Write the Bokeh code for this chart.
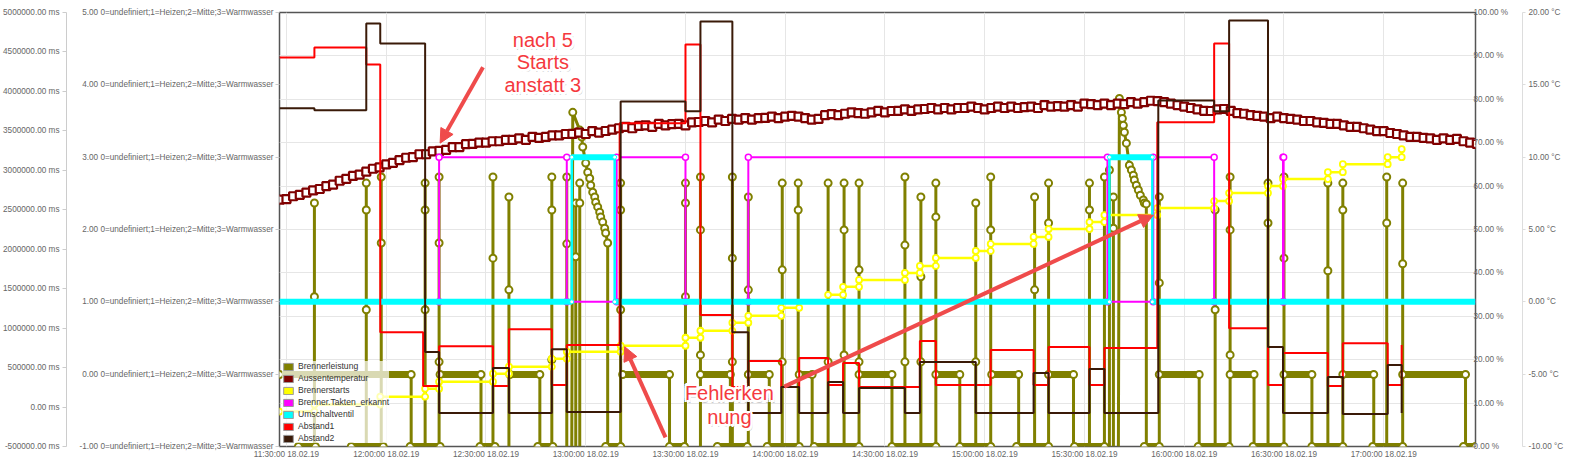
import numpy as np
import pandas as pd
from bokeh.plotting import figure
from bokeh.models import (Range1d, LinearAxis, FixedTicker, CustomJSTickFormatter, DatetimeTickFormatter,
                          Grid, Legend, LegendItem, Label, Arrow, NormalHead)
from bokeh.embed import file_html
from bokeh.resources import INLINE

# ---------------------------------------------------------------- data
DAY = "2019-02-18 "
X_START, X_END = "11:27:54", "17:27:36"
X_TICKS = ["11:30:00", "12:00:00", "12:30:00", "13:00:00", "13:30:00", "14:00:00", "14:30:00",
           "15:00:00", "15:30:00", "16:00:00", "16:30:00", "17:00:00"]
STATE_TEXT = "0=undefiniert;1=Heizen;2=Mitte;3=Warmwasser"
STATE_TICKS = [-1, 0, 1, 2, 3, 4, 5]
MS_TICKS = [-500000, 0, 500000, 1000000, 1500000, 2000000, 2500000, 3000000, 3500000, 4000000, 4500000, 5000000]
PCT_TICKS = [0, 10, 20, 30, 40, 50, 60, 70, 80, 90, 100]
DEGC_TICKS = [-10, -5, 0, 5, 10, 15, 20]

SERIES = ["Brennerleistung", "Aussentemperatur", "Brennerstarts", "Brenner.Takten_erkannt",
          "Umschaltventil", "Abstand1", "Abstand2"]
COLORS = ["#808000", "#800000", "#ffff00", "#ff00ff", "#00ffff", "#ff0000", "#3a1a08"]

# Aussentemperatur (°C), one reading every 2 minutes from 11:28
temp_start = "11:28:00"
temp_c = [7.07, 7.1, 7.3, 7.4, 7.55, 7.7, 7.8, 8.0, 8.1, 8.37, 8.5, 8.7, 8.8, 9.0, 9.2,
          9.3, 9.5, 9.6, 9.8, 9.96, 10.0, 10.2, 10.2, 10.4, 10.44, 10.5, 10.7, 10.7, 10.9, 10.92,
          11.0, 11.0, 11.1, 11.1, 11.19, 11.2, 11.3, 11.2, 11.4, 11.33, 11.4, 11.5, 11.5, 11.6, 11.61,
          11.7, 11.6, 11.8, 11.7, 11.81, 11.9, 12.0, 12.1, 12.0, 12.16, 12.2, 12.1, 12.3, 12.2, 12.29,
          12.3, 12.2, 12.4, 12.43, 12.5, 12.4, 12.6, 12.5, 12.64, 12.6, 12.7, 12.6, 12.7, 12.71, 12.8,
          12.7, 12.8, 12.85, 12.8, 12.7, 12.6, 12.64, 12.9, 12.98, 12.9, 13.0, 13.1, 13.05, 13.0, 13.1,
          13.2, 13.1, 13.19, 13.2, 13.3, 13.2, 13.3, 13.33, 13.4, 13.3, 13.4, 13.3, 13.4, 13.4, 13.5,
          13.4, 13.3, 13.4, 13.5, 13.4, 13.5, 13.4, 13.46, 13.5, 13.4, 13.6, 13.5, 13.53, 13.5, 13.6,
          13.5, 13.7, 13.67, 13.6, 13.7, 13.6, 13.7, 13.67, 13.8, 13.7, 13.8, 13.9, 13.88, 13.8, 13.7,
          13.6, 13.5, 13.4, 13.3, 13.2, 13.19, 13.3, 13.33, 13.2, 13.05, 13.0, 12.9, 12.85, 12.8, 12.7,
          12.8, 12.7, 12.64, 12.6, 12.5, 12.5, 12.4, 12.37, 12.3, 12.3, 12.2, 12.1, 12.09, 12.0, 11.9,
          11.8, 11.8, 11.67, 11.6, 11.5, 11.4, 11.4, 11.33, 11.3, 11.2, 11.3, 11.2, 11.26, 11.1, 11.0,
          10.92]

# Abstand1 / Abstand2 (ms), step values
abstand1_times = ["11:27:54", "11:38:24", "11:54:00", "11:58:12", "12:11:06", "12:15:54", "12:32:06",
                  "12:36:54", "12:49:48", "12:54:18", "13:10:12", "13:30:00", "13:34:30", "13:44:06",
                  "13:48:54", "13:58:48", "14:04:12", "14:12:54", "14:17:24", "14:22:12", "14:40:30",
                  "14:45:18", "15:01:48", "15:14:42", "15:19:12", "15:31:30", "15:36:00", "15:51:54",
                  "16:09:00", "16:13:30", "16:25:12", "16:29:42", "16:43:12", "16:47:42", "17:01:12",
                  "17:05:24"]
abstand1_ms = [4430000, 4557000, 4342000, 949000, 266000, 772000, 266000, 987000, 279000, 785000,
               3595000, 4595000, 1165000, 253000, 582000, 253000, 620000, 279000, 557000, 253000,
               836000, 279000, 722000, 279000, 760000, 279000, 747000, 3608000, 4608000, 1000000,
               279000, 684000, 266000, 810000, 279000, 785000]
abstand2_times = ["11:27:54", "11:38:24", "11:54:00", "11:58:12", "12:11:42", "12:15:54", "12:32:06",
                  "12:36:54", "12:49:48", "12:54:18", "13:10:30", "13:30:00", "13:34:30", "13:44:06",
                  "13:48:54", "13:58:48", "14:04:12", "14:12:54", "14:17:24", "14:22:12", "14:36:00",
                  "14:40:30", "14:57:18", "15:14:42", "15:19:12", "15:31:30", "15:36:00", "15:52:12",
                  "16:09:00", "16:13:30", "16:25:12", "16:29:42", "16:43:12", "16:47:42", "17:01:12",
                  "17:05:24"]
abstand2_ms = [3785000, 3760000, 4861000, 4608000, 696000, -76000, 494000, -76000, 734000, -63000,
               3873000, 3747000, 4886000, 949000, -76000, 253000, -76000, 317000, -76000, 241000,
               -76000, 570000, -76000, 430000, -76000, 481000, -76000, 3886000, 3747000, 4899000,
               760000, -76000, 380000, -89000, 532000, -76000]

# Brennerstarts (% scale), step values; None = gap
starts_times = ["11:27:54", "11:38:24", "11:58:12", "12:11:42", "12:15:54", "12:32:06", "12:36:54",
                "12:49:48", "12:54:18", "13:10:30", "13:30:00", "13:34:30", "13:44:06", "13:48:54",
                "13:58:48", "14:04:12", "14:12:54", "14:17:24", "14:22:12", "14:36:00", "14:40:30",
                "14:45:18", "14:57:18", "15:01:48", "15:14:42", "15:19:12", "15:31:30", "15:36:00",
                "15:51:54", "16:09:00", "16:13:30", "16:25:12", "16:29:42", "16:43:12", "16:47:42",
                "17:01:12", "17:05:24"]
starts_pct = [8.05, 9.66, 11.49, 13.33, 14.94, 16.78, 18.39, 20.23, 21.84, 23.22, 25.06, 26.67, 28.51,
              30.11, 31.95, None, 34.94, 36.78, 38.39, 40.00, 41.61, 43.45, 45.06, 46.67, 48.28, 50.11,
              51.72, 53.33, 54.94, 56.55, 58.39, 60.00, 61.61, 63.22, 65.06, 66.67, 68.51]

# Brenner.Takten_erkannt and Umschaltventil (state scale), step values
takten_times = ["11:27:54", "12:15:54", "12:54:18", "13:09:18", "13:30:00", "13:48:54", "15:36:54",
                "15:50:42", "16:09:00", "16:29:42", "16:29:54", "17:27:36"]
takten_state = [1, 3, 1, 3, 1, 3, 1, 3, 1, 3, 1, 1]
ventil_times = ["11:27:54", "12:55:48", "13:08:42", "15:37:30", "15:50:24", "17:27:36"]
ventil_state = [1, 3, 1, 3, 1, 1]

# Brennerleistung (%)
spike_times = ["11:38:24", "11:54:00", "11:58:30", "12:11:42", "12:15:54", "12:32:06", "12:36:54",
               "12:49:48", "12:54:18", "12:57:00", "12:58:12", "13:10:30", "13:30:00", "13:34:30",
               "13:44:06", "13:48:54", "13:59:06", "14:03:54", "14:12:54", "14:17:42", "14:22:12",
               "14:36:00", "14:40:48", "14:45:18", "14:57:18", "15:01:48", "15:15:00", "15:19:12",
               "15:31:30", "15:36:00", "15:37:30", "15:38:42", "15:52:30", "16:09:18", "16:13:48",
               "16:25:12", "16:30:00", "16:43:12", "16:47:42", "17:00:54", "17:05:42"]
spike_pct = [56.1, 60.7, 62.1, 60.7, 62.1, 62.1, 57.5, 62.1, 62.1, 56.1, 60.7, 60.7, 60.7, 62.1,
             62.1, 57.5, 60.7, 60.7, 60.7, 60.7, 60.7, 62.1, 57.5, 60.7, 56.1, 62.1, 57.5, 60.7,
             60.7, 62.1, 63.7, 57.5, 57.5, 54.5, 62.1, 60.7, 62.1, 60.7, 60.7, 62.1, 60.7]
mark_times = ["11:38:24", "11:54:00", "11:54:00", "11:58:30", "12:11:42", "12:11:42", "12:15:54",
              "12:15:54", "12:32:06", "12:36:54", "12:49:48", "12:49:48", "12:54:18", "12:57:00",
              "12:58:12", "13:10:30", "13:10:30", "13:30:00", "13:30:00", "13:34:30", "13:34:30",
              "13:44:06", "13:44:06", "13:48:54", "13:59:06", "13:59:06", "14:03:54", "14:12:54",
              "14:17:42", "14:17:42", "14:22:12", "14:22:12", "14:36:00", "14:36:00", "14:40:48",
              "14:40:48", "14:45:18", "14:57:18", "15:01:48", "15:15:00", "15:19:12", "15:31:30",
              "15:38:42", "15:52:30", "16:09:18", "16:13:48", "16:13:48", "16:25:12", "16:30:00",
              "16:43:12", "16:47:42", "17:00:54", "17:05:42"]
mark_pct = [34.5, 54.5, 31.5, 46.9, 54.5, 31.5, 46.9, 19.5, 43.4, 36.1, 54.5, 20.0, 46.7, 43.7,
            56.1, 54.5, 31.5, 56.1, 34.5, 49.9, 21.1, 43.4, 19.5, 36.1, 40.7, 19.5, 54.5, 19.5,
            49.9, 21.1, 40.7, 19.5, 46.4, 19.5, 39.1, 19.5, 52.9, 19.5, 49.9, 36.1, 51.5, 54.5,
            50.3, 37.7, 31.5, 49.9, 21.1, 51.5, 43.4, 40.5, 54.5, 51.5, 42.1]
MIN_LEVEL = 16.6
min_start = ["11:27:54", "12:16:12", "12:37:12", "13:11:06", "13:34:30", "13:48:54", "14:04:12",
             "14:22:12", "14:45:18", "15:02:06", "15:19:12", "15:52:30", "16:13:48", "16:30:00",
             "16:47:42", "17:05:42"]
min_end = ["12:07:30", "12:28:30", "12:46:12", "13:25:12", "13:43:30", "13:55:12", "14:08:06",
           "14:32:06", "14:52:30", "15:10:12", "15:26:42", "16:04:30", "16:21:00", "16:38:24",
           "16:57:00", "17:24:36"]
OFF_LEVEL = 0.0
off_start = ["11:33:36", "11:49:30", "12:07:12", "12:28:12", "12:45:36", "13:06:00", "13:25:12",
             "13:39:36", "13:54:36", "14:08:42", "14:32:06", "14:52:30", "15:09:36", "15:27:00",
             "15:48:00", "16:04:12", "16:20:42", "16:38:24", "16:56:42", "17:24:00"]
off_end = ["11:38:42", "11:59:06", "12:16:12", "12:32:42", "12:50:06", "13:10:30", "13:29:42",
           "13:48:36", "14:04:12", "14:22:12", "14:45:18", "15:01:48", "15:19:12", "15:36:00",
           "15:52:30", "16:13:30", "16:30:00", "16:47:42", "17:05:42", "17:27:36"]
dhw_times = ["12:55:48", "12:56:06", "12:58:12", "12:58:48", "12:59:06", "13:00:00", "13:00:36",
             "13:01:12", "13:01:30", "13:02:06", "13:02:42", "13:03:00", "13:03:36", "13:04:12",
             "13:04:30", "13:05:06", "13:05:42", "13:06:00", "13:06:36", "13:06:36", None,
             "15:40:12", "15:40:30", "15:41:06", "15:41:24", "15:41:42", "15:42:00", "15:42:36",
             "15:43:30", "15:44:06", "15:44:42", "15:45:00", "15:45:36", "15:46:12", "15:46:48",
             "15:47:42", "15:48:00", "15:48:36", "15:48:36"]
dhw_pct = [0, 77.0, 72.9, 71.3, 69.0, 65.3, 63.2, 61.8, 60.2, 58.6, 57.5, 56.3, 55.2, 54.0, 52.9,
           51.7, 50.3, 49.2, 46.9, 0, None,
           0, 80.2, 77.0, 75.6, 74.0, 72.4, 69.9, 64.8, 63.7, 62.5, 61.4, 60.2, 59.1, 57.9, 56.8,
           56.1, 55.9, 0]

# annotations (time, % scale)
NOTE1 = ["nach 5", "Starts", "anstatt 3"]
NOTE1_X, NOTE1_Y = "12:47:06", [93.6, 88.5, 83.2]
NOTE2 = ["Fehlerken", "nung"]
NOTE2_X, NOTE2_Y = "13:43:12", [12.4, 6.7]
ARROWS = [("12:29:06", 87.4, "12:16:12", 69.9),
          ("13:24:00", 2.1, "13:11:42", 23.0),
          ("13:59:42", 13.8, "15:50:42", 53.3)]

# ---------------------------------------------------------------- helpers
EPOCH = pd.Timestamp("1970-01-01")


def tm(s):
    if s is None:
        return np.nan
    return (pd.Timestamp(DAY + s) - EPOCH).total_seconds() * 1000.0


def step_path(times, values):
    xs, ys, prev = [], [], None
    for s, v in zip(times, values):
        x = tm(s)
        if prev is not None:
            xs.append(x); ys.append(prev)
        xs.append(x); ys.append(np.nan if v is None else v)
        prev = v
    return xs, ys


FONT = "Liberation Sans"
FS = "8.2px"
TC = "#666666"
OLIVE, TEMP, YEL, MAG, CYAN, RED, BROWN = COLORS

W, H = 1572, 461
p = figure(width=W, height=H, x_axis_type="datetime", output_backend="svg", toolbar_location=None,
           x_range=Range1d(tm(X_START), tm(X_END)), y_range=Range1d(-1, 5),
           min_border_left=276, min_border_right=W - 1475, min_border_top=12, min_border_bottom=H - 447)
p.extra_y_ranges = {"ms": Range1d(-500000, 5000000), "pct": Range1d(0, 100), "degc": Range1d(-10, 20)}
p.outline_line_color = "#555555"
p.outline_line_width = 1.5
p.background_fill_color = "white"
p.border_fill_color = "white"


def style(ax, tick_out=4, standoff=2, line=None, tick_col="#cccccc"):
    ax.major_label_text_font = FONT
    ax.major_label_text_font_size = FS
    ax.major_label_text_color = TC
    ax.minor_tick_line_color = None
    ax.major_tick_in = 0
    ax.major_tick_out = tick_out
    ax.major_tick_line_color = tick_col if tick_out else None
    ax.axis_line_color = line
    ax.major_label_standoff = standoff


def gap(ax, px):
    ax.axis_label = " "
    ax.axis_label_text_font_size = "1px"
    ax.axis_label_standoff = px


# x axis
xa = p.xaxis[0]
xa.ticker = FixedTicker(ticks=[tm(s) for s in X_TICKS])
fmt = "%H:%M:%S %d.%m.%y"
xa.formatter = DatetimeTickFormatter(seconds=fmt, minsec=fmt, minutes=fmt, hourmin=fmt, hours=fmt, days=fmt)
style(xa, tick_out=0, standoff=3)

# inner left: state axis
sa = p.yaxis[0]
sa.ticker = FixedTicker(ticks=STATE_TICKS)
sa.formatter = CustomJSTickFormatter(args=dict(s=STATE_TEXT), code="return tick.toFixed(2) + ' ' + s")
style(sa, tick_out=4, standoff=2)
gap(sa, 6)

# outer left: ms axis
ma = LinearAxis(y_range_name="ms", ticker=FixedTicker(ticks=MS_TICKS),
                formatter=CustomJSTickFormatter(code="return tick.toFixed(2) + ' ms'"))
style(ma, tick_out=4, standoff=3, line="#cccccc")
p.add_layout(ma, "left")

# right: % and °C
pa = LinearAxis(y_range_name="pct", ticker=FixedTicker(ticks=PCT_TICKS),
                formatter=CustomJSTickFormatter(code="return tick.toFixed(2) + ' %'"))
style(pa, tick_out=0, standoff=-2)
gap(pa, 7)
p.add_layout(pa, "right")
ca = LinearAxis(y_range_name="degc", ticker=FixedTicker(ticks=DEGC_TICKS),
                formatter=CustomJSTickFormatter(code="return tick.toFixed(2) + ' \u00b0C'"))
style(ca, tick_out=3, standoff=3, line="#dddddd", tick_col="#dddddd")
p.add_layout(ca, "right")

# grids
p.xgrid.grid_line_color = "#e6e6e6"
p.ygrid.visible = False
p.add_layout(Grid(dimension=1, ticker=FixedTicker(ticks=PCT_TICKS), y_range_name="pct",
                  grid_line_color="#e6e6e6"))

# ---------------------------------------------------------------- Brennerleistung
mk = dict(fill_color="white", line_color=OLIVE, line_width=2, size=7, y_range_name="pct")
p.segment(x0=[tm(s) for s in min_start], x1=[tm(s) for s in min_end], y0=[MIN_LEVEL] * len(min_start),
          y1=[MIN_LEVEL] * len(min_start), line_color=OLIVE, line_width=7, line_cap="round", y_range_name="pct")
p.segment(x0=[tm(s) for s in off_start], x1=[tm(s) for s in off_end], y0=[OFF_LEVEL] * len(off_start),
          y1=[OFF_LEVEL] * len(off_start), line_color=OLIVE, line_width=7, line_cap="round", y_range_name="pct")
p.segment(x0=[tm(s) for s in min_end], x1=[tm(s) for s in min_end], y0=[MIN_LEVEL] * len(min_end),
          y1=[OFF_LEVEL] * len(min_end), line_color=OLIVE, line_width=3, y_range_name="pct")
p.segment(x0=[tm(s) for s in spike_times], x1=[tm(s) for s in spike_times], y0=[OFF_LEVEL] * len(spike_times),
          y1=spike_pct, line_color=OLIVE, line_width=3, y_range_name="pct")
dx = [tm(s) for s in dhw_times]
dy = [np.nan if v is None else v for v in dhw_pct]
p.line(dx, dy, line_color=OLIVE, line_width=3, y_range_name="pct")
p.scatter([x for x, y in zip(dx, dy) if y == y and y > 0], [y for y in dy if y == y and y > 0], **mk)
p.scatter([tm(s) for s in spike_times], spike_pct, **mk)
p.scatter([tm(s) for s in mark_times], mark_pct, **mk)
p.scatter([tm(s) for s in min_start + min_end], [MIN_LEVEL] * (2 * len(min_start)), **mk)
p.scatter([tm(s) for s in off_start + off_end], [OFF_LEVEL] * (2 * len(off_start)), **mk)

# ---------------------------------------------------------------- Aussentemperatur
tt = pd.date_range(DAY + temp_start, periods=len(temp_c), freq="2min")
tx = [(x - EPOCH).total_seconds() * 1000.0 for x in tt]
p.line(tx, temp_c, line_color=TEMP, line_width=2, y_range_name="degc")
p.scatter(tx, temp_c, marker="square", size=8, fill_color="white", line_color=TEMP, line_width=2.2,
          y_range_name="degc")

# ---------------------------------------------------------------- Brennerstarts
yx, yy = step_path(starts_times, starts_pct)
p.line(yx, yy, line_color=YEL, line_width=2.5, y_range_name="pct")
p.scatter([x for x, y in zip(yx, yy) if y == y], [y for y in yy if y == y], size=6, fill_color="white",
          line_color=YEL, line_width=1.8, y_range_name="pct")

# ---------------------------------------------------------------- Brenner.Takten_erkannt
mx, my = step_path(takten_times, takten_state)
p.line(mx, my, line_color=MAG, line_width=2)
p.scatter(mx[1:-2], my[1:-2], size=6, fill_color="white", line_color=MAG, line_width=1.5)

# ---------------------------------------------------------------- Umschaltventil
vx = [tm(s) for s in ventil_times]
p.segment(x0=vx[:-1], x1=vx[1:], y0=ventil_state[:-1], y1=ventil_state[:-1], line_color=CYAN, line_width=6)
chg = [i for i in range(1, len(vx)) if ventil_state[i] != ventil_state[i - 1]]
p.segment(x0=[vx[i] for i in chg], x1=[vx[i] for i in chg], y0=[ventil_state[i - 1] for i in chg],
          y1=[ventil_state[i] for i in chg], line_color=CYAN, line_width=2.5)
p.scatter([vx[i] for i in chg] * 2, [ventil_state[i - 1] for i in chg] + [ventil_state[i] for i in chg],
          size=4, fill_color="white", line_color=CYAN, line_width=1)

# ---------------------------------------------------------------- Abstand1 / Abstand2
ax1, ay1 = step_path(abstand1_times, abstand1_ms)
p.line(ax1, ay1, line_color=RED, line_width=2, y_range_name="ms")
ax2, ay2 = step_path(abstand2_times, abstand2_ms)
p.line(ax2, ay2, line_color=BROWN, line_width=2, y_range_name="ms")

# ---------------------------------------------------------------- legend (square swatches)
items = []
for name, col in zip(SERIES, COLORS):
    r = p.quad(left=[np.nan], right=[np.nan], top=[np.nan], bottom=[np.nan], fill_color=col,
               line_color="#999999", line_width=1)
    items.append(LegendItem(label=name, renderers=[r]))
legend = Legend(items=items, location=(3, 3), label_text_font=FONT, label_text_font_size="8.6px",
                label_text_color="#333333", glyph_width=12, glyph_height=9, label_height=10,
                spacing=2, padding=3, margin=0, label_standoff=4,
                background_fill_color="white", background_fill_alpha=0.7, border_line_color=None)
p.add_layout(legend)

# ---------------------------------------------------------------- annotations
ACOL = "#ef4b4b"
for (xs_, ys_, xe_, ye_) in ARROWS:
    p.add_layout(Arrow(end=NormalHead(size=14, fill_color=ACOL, line_color=ACOL), line_color=ACOL,
                       line_width=4, x_start=tm(xs_), y_start=ys_, x_end=tm(xe_), y_end=ye_,
                       y_range_name="pct"))

HALO = [(-2, -2), (-2, 0), (-2, 2), (0, -2), (0, 2), (2, -2), (2, 0), (2, 2), (-1, 2.5), (1, -2.5)]


def note(txt, x, y):
    base = dict(x=tm(x), y=y, text=txt, y_range_name="pct", text_font=FONT, text_font_size="20px",
                text_align="center", text_baseline="middle")
    p.add_layout(Label(x_offset=2, y_offset=-3, text_color="#9a9a9a", text_alpha=0.5, **base))
    for ox, oy in HALO:
        p.add_layout(Label(x_offset=ox, y_offset=oy, text_color="white", **base))
    p.add_layout(Label(text_color="#f5393e", **base))


for txt, yv in zip(NOTE1, NOTE1_Y):
    note(txt, NOTE1_X, yv)
for txt, yv in zip(NOTE2, NOTE2_Y):
    note(txt, NOTE2_X, yv)

open("out.html", "w").write(file_html(p, INLINE))
